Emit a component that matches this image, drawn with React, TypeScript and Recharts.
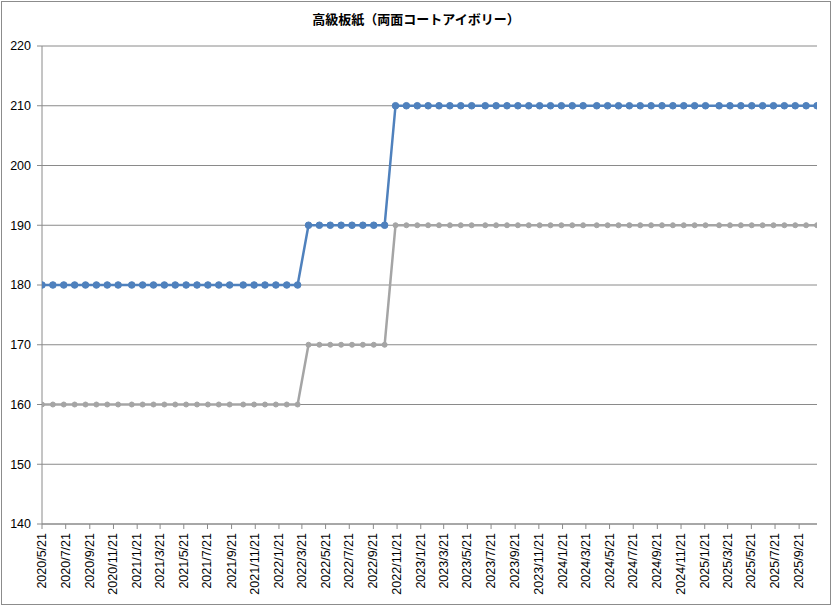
import React from 'react';
import { LineChart, Line, XAxis, YAxis, CartesianGrid } from 'recharts';

const TITLE = '高級板紙（両面コートアイボリー）';

const dates = [
  '2020/5/21', '2020/6/18', '2020/7/16', '2020/8/13', '2020/9/10', '2020/10/8', '2020/11/5', '2020/12/3',
  '2021/1/7', '2021/2/4', '2021/3/4', '2021/4/1', '2021/4/29', '2021/5/27', '2021/6/24', '2021/7/22',
  '2021/8/19', '2021/9/16', '2021/10/21', '2021/11/18', '2021/12/16', '2022/1/13', '2022/2/10', '2022/3/10',
  '2022/4/7', '2022/5/5', '2022/6/2', '2022/6/30', '2022/7/28', '2022/8/25', '2022/9/22', '2022/10/20',
  '2022/11/17', '2022/12/15', '2023/1/12', '2023/2/9', '2023/3/9', '2023/4/6', '2023/5/4', '2023/6/1',
  '2023/7/6', '2023/8/3', '2023/8/31', '2023/9/28', '2023/10/26', '2023/11/23', '2023/12/21', '2024/1/18',
  '2024/2/15', '2024/3/14', '2024/4/18', '2024/5/16', '2024/6/13', '2024/7/11', '2024/8/8', '2024/9/5',
  '2024/10/3', '2024/10/31', '2024/11/28', '2024/12/26', '2025/1/23', '2025/2/27', '2025/3/27', '2025/4/24',
  '2025/5/22', '2025/6/19', '2025/7/17', '2025/8/14', '2025/9/11', '2025/10/9', '2025/11/6',
];

const blueValues = [
  180, 180, 180, 180, 180, 180, 180, 180,
  180, 180, 180, 180, 180, 180, 180, 180,
  180, 180, 180, 180, 180, 180, 180, 180,
  190, 190, 190, 190, 190, 190, 190, 190,
  210, 210, 210, 210, 210, 210, 210, 210,
  210, 210, 210, 210, 210, 210, 210, 210,
  210, 210, 210, 210, 210, 210, 210, 210,
  210, 210, 210, 210, 210, 210, 210, 210,
  210, 210, 210, 210, 210, 210, 210,
];

const grayValues = [
  160, 160, 160, 160, 160, 160, 160, 160,
  160, 160, 160, 160, 160, 160, 160, 160,
  160, 160, 160, 160, 160, 160, 160, 160,
  170, 170, 170, 170, 170, 170, 170, 170,
  190, 190, 190, 190, 190, 190, 190, 190,
  190, 190, 190, 190, 190, 190, 190, 190,
  190, 190, 190, 190, 190, 190, 190, 190,
  190, 190, 190, 190, 190, 190, 190, 190,
  190, 190, 190, 190, 190, 190, 190,
];

const xTickLabels = [
  '2020/5/21', '2020/7/21', '2020/9/21', '2020/11/21',
  '2021/1/21', '2021/3/21', '2021/5/21', '2021/7/21', '2021/9/21', '2021/11/21',
  '2022/1/21', '2022/3/21', '2022/5/21', '2022/7/21', '2022/9/21', '2022/11/21',
  '2023/1/21', '2023/3/21', '2023/5/21', '2023/7/21', '2023/9/21', '2023/11/21',
  '2024/1/21', '2024/3/21', '2024/5/21', '2024/7/21', '2024/9/21', '2024/11/21',
  '2025/1/21', '2025/3/21', '2025/5/21', '2025/7/21', '2025/9/21',
];

const yTicks = [140, 150, 160, 170, 180, 190, 200, 210, 220];

const toDay = (s: string) => {
  const [y, m, d] = s.split('/').map(Number);
  return Date.UTC(y, m - 1, d) / 86400000;
};

const data = dates.map((d, i) => ({ t: toDay(d), a: blueValues[i], b: grayValues[i] }));
const xTicks = xTickLabels.map(toDay);
const labelByDay: Record<number, string> = {};
xTickLabels.forEach((l) => { labelByDay[toDay(l)] = l; });

const FONT = '"Liberation Sans", Arial, sans-serif';

const XTick = (props: any) => {
  const { x, y, payload } = props;
  const ty = y + 2;
  return (
    <text
      x={x}
      y={ty}
      transform={`rotate(-90 ${x} ${ty})`}
      textAnchor="end"
      dominantBaseline="central"
      fontSize={12.5}
      fontFamily={FONT}
      fill="#000"
    >
      {labelByDay[payload.value]}
    </text>
  );
};

export default function App() {
  return (
    <div style={{ position: 'absolute', left: 0, top: 0, width: 832, height: 606, background: '#fff' }}>
      <div
        style={{
          position: 'absolute', left: 1, top: 1, width: 828, height: 602,
          border: '1px solid #8c8c8c', boxSizing: 'content-box',
        }}
      />
      <div
        style={{
          position: 'absolute', left: 0, top: 9, width: 832, textAlign: 'center',
          fontFamily: '"Noto Sans CJK JP", sans-serif', fontWeight: 'bold', fontSize: 13, color: '#000',
        }}
      >
        {TITLE}
      </div>
      <LineChart
        width={832}
        height={606}
        data={data}
        margin={{ top: 46, right: 15, left: 0, bottom: 0 }}
        style={{ position: 'absolute', left: 0, top: 0 }}
      >
        <CartesianGrid vertical={false} stroke="#8a8a8a" strokeWidth={1} />
        <XAxis
          dataKey="t"
          type="number"
          domain={[data[0].t, data[data.length - 1].t]}
          ticks={xTicks}
          interval={0}
          height={82}
          tick={<XTick />}
          tickSize={5}
          tickLine={{ stroke: '#8a8a8a' }}
          axisLine={{ stroke: '#8a8a8a' }}
          allowDataOverflow
        />
        <YAxis
          domain={[140, 220]}
          ticks={yTicks}
          interval={0}
          width={42}
          tickSize={5}
          tickMargin={6}
          tick={{ fontSize: 12.5, fontFamily: FONT, fill: '#000' }}
          tickLine={{ stroke: '#8a8a8a' }}
          axisLine={{ stroke: '#8a8a8a' }}
        />
        <Line
          type="linear"
          dataKey="a"
          stroke="#4F81BD"
          strokeWidth={2.5}
          dot={{ r: 3.3, fill: '#4F81BD', stroke: '#4F81BD', strokeWidth: 1 }}
          isAnimationActive={false}
        />
        <Line
          type="linear"
          dataKey="b"
          stroke="#A5A5A5"
          strokeWidth={2.5}
          dot={{ r: 2.5, fill: '#A5A5A5', stroke: '#A5A5A5', strokeWidth: 1 }}
          isAnimationActive={false}
        />
      </LineChart>
    </div>
  );
}
